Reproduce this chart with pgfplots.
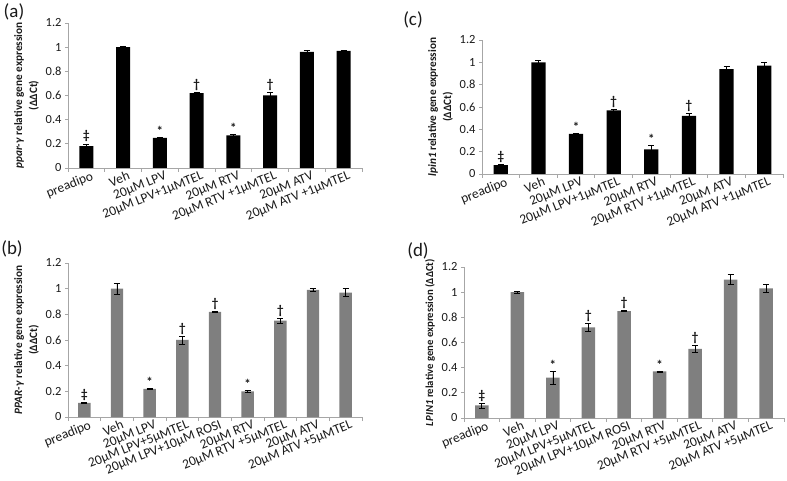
\documentclass[border=0pt]{standalone}
\usepackage{fontspec}
\setmainfont{Carlito}
\usepackage{pgfplots}
\pgfplotsset{compat=1.18}
\usepackage{pgfplotstable}

\definecolor{axgray}{HTML}{A6A6A6}
\definecolor{bargray}{HTML}{7F7F7F}
\definecolor{txt}{HTML}{1A1A1A}

% panel (a): ppar-gamma, 1uM TEL
\pgfplotstableread{
x y err
0 0.18 0.02
1 1.00 0.01
2 0.25 0.008
3 0.62 0.005
4 0.27 0.008
5 0.60 0.03
6 0.96 0.01
7 0.97 0.005
}\dataA
% panel (c): lpin1, 1uM TEL
\pgfplotstableread{
x y err
0 0.08 0.005
1 1.00 0.02
2 0.36 0.005
3 0.57 0.005
4 0.22 0.04
5 0.52 0.02
6 0.94 0.02
7 0.97 0.03
}\dataC
% panel (b): PPAR-gamma, 5uM TEL
\pgfplotstableread{
x y err
0 0.11 0.004
1 1.00 0.04
2 0.22 0.004
3 0.60 0.03
4 0.82 0.003
5 0.20 0.008
6 0.75 0.02
7 0.99 0.01
8 0.97 0.03
}\dataB
% panel (d): LPIN1, 5uM TEL
\pgfplotstableread{
x y err
0 0.10 0.02
1 1.00 0.008
2 0.32 0.05
3 0.72 0.03
4 0.85 0.005
5 0.37 0.005
6 0.55 0.03
7 1.10 0.04
8 1.03 0.03
}\dataD

\pgfplotsset{
  panel/.style={
    scale only axis,
    anchor=south west,
    axis lines*=left,
    axis line style={axgray, line width=0.8pt},
    ymin=0, ymax=1.2,
    ytick={0,0.2,0.4,0.6,0.8,1,1.2},
    yticklabels={0,0.2,0.4,0.6,0.8,1,1.2},
    tick align=outside,
    major tick length=3bp,
    minor tick length=4bp,
    major x tick style={draw=none},
    minor x tick style={draw=axgray, line width=0.8pt},
    ytick style={draw=axgray, line width=0.8pt},
    yticklabel style={font=\fontsize{12.5}{13}\selectfont, text=txt},
    xticklabel style={font=\fontsize{13.5}{14}\selectfont, text=txt, rotate=22, anchor=north east, inner sep=1pt, xshift=5bp},
    ylabel style={align=center, font=\fontsize{11.3}{15}\selectfont\bfseries, text=txt},
    xtick=data,
    clip=false,
  },
  bars/.style={
    ybar, bar width=0.38, bar shift=0pt, draw=none, fill=#1,
    error bars/.cd, y dir=both, y explicit,
    error bar style={black, line width=0.6pt},
    error mark options={rotate=90, black, mark size=3bp, line width=0.6pt},
  },
  syms/.style={
    only marks, mark=none, point meta=explicit symbolic,
    nodes near coords, nodes near coords align={above},
    every node near coord/.append style={font=\fontsize{13}{14}\selectfont\bfseries, text=txt, inner sep=1.5pt, anchor=south},
  },
}

\begin{document}
\begin{tikzpicture}
\useasboundingbox (0,0) rectangle (787bp,481bp);

% (a)
\begin{axis}[panel, at={(68bp,313bp)}, width=294bp, height=145bp,
  xmin=-0.5, xmax=7.5,
  minor xtick={-0.5,0.5,1.5,2.5,3.5,4.5,5.5,6.5,7.5},
  xticklabels={preadipo,Veh,20µM LPV,20µM LPV+1µMTEL,20µM RTV,20µM RTV +1µMTEL,20µM ATV,20µM ATV +1µMTEL},
  ylabel={\textit{ppar-γ} relative gene expression\\(ΔΔCt)}]
\addplot[bars=black] table[x=x, y=y, y error=err] {\dataA};
\addplot[syms] coordinates {(0,0.20) [‡] (2,0.258) [*] (3,0.625) [†] (4,0.278) [*] (5,0.63) [†]};
\end{axis}

% (c)
\begin{axis}[panel, at={(482bp,307bp)}, width=301bp, height=134bp,
  xmin=-0.5, xmax=7.5,
  minor xtick={-0.5,0.5,1.5,2.5,3.5,4.5,5.5,6.5,7.5},
  xticklabels={preadipo,Veh,20µM LPV,20µM LPV+1µMTEL,20µM RTV,20µM RTV +1µMTEL,20µM ATV,20µM ATV +1µMTEL},
  ylabel={\textit{lpin1} relative gene expression\\(ΔΔCt)}]
\addplot[bars=black] table[x=x, y=y, y error=err] {\dataC};
\addplot[syms] coordinates {(0,0.085) [‡] (2,0.365) [*] (3,0.575) [†] (4,0.26) [*] (5,0.54) [†]};
\end{axis}

% (b)
\begin{axis}[panel, at={(68bp,64bp)}, width=294bp, height=154bp,
  xmin=-0.5, xmax=8.5,
  minor xtick={-0.5,0.5,1.5,2.5,3.5,4.5,5.5,6.5,7.5,8.5},
  xticklabels={preadipo,Veh,20µM LPV,20µM LPV+5µMTEL,20µM LPV+10µM ROSI,20µM RTV,20µM RTV +5µMTEL,20µM ATV,20µM ATV +5µMTEL},
  ylabel={\textit{PPAR-γ} relative gene expression\\(ΔΔCt)}]
\addplot[bars=bargray] table[x=x, y=y, y error=err] {\dataB};
\addplot[syms] coordinates {(0,0.114) [‡] (2,0.224) [*] (3,0.63) [†] (4,0.823) [†] (5,0.208) [*] (6,0.77) [†]};
\end{axis}

% (d)
\begin{axis}[panel, at={(464bp,63bp)}, width=320bp, height=151bp,
  xmin=-0.5, xmax=8.5,
  minor xtick={-0.5,0.5,1.5,2.5,3.5,4.5,5.5,6.5,7.5,8.5},
  xticklabels={preadipo,Veh,20µM LPV,20µM LPV+5µMTEL,20µM LPV+10µM ROSI,20µM RTV,20µM RTV +5µMTEL,20µM ATV,20µM ATV +5µMTEL},
  ylabel={\textit{LPIN1} relative gene expression (ΔΔCt)}, ylabel style={font=\fontsize{10.8}{13}\selectfont\bfseries}]
\addplot[bars=bargray] table[x=x, y=y, y error=err] {\dataD};
\addplot[syms] coordinates {(0,0.12) [‡] (2,0.37) [*] (3,0.75) [†] (4,0.855) [†] (5,0.375) [*] (6,0.58) [†]};
\end{axis}

\node[font=\fontsize{19}{20}\selectfont, text=txt] at (14bp,469bp) {(a)};
\node[font=\fontsize{19}{20}\selectfont, text=txt] at (413bp,461bp) {(c)};
\node[font=\fontsize{19}{20}\selectfont, text=txt] at (12bp,232bp) {(b)};
\node[font=\fontsize{19}{20}\selectfont, text=txt] at (418bp,230bp) {(d)};
\end{tikzpicture}
\end{document}
